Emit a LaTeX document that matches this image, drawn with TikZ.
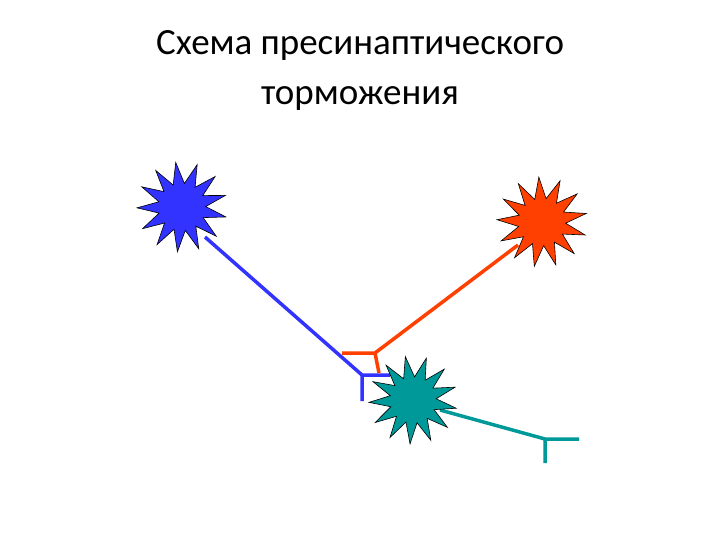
\documentclass[tikz,border=0pt]{standalone}
\usepackage{fontspec}
\setmainfont{Carlito}
\usetikzlibrary{shapes.geometric}
\begin{document}
\begin{tikzpicture}[x=1pt,y=-1pt,
  neuron/.style={star,star points=13,star point ratio=1.9,draw=black,line width=0.6pt,minimum size=#1,inner sep=0pt},
  axon/.style={line width=3.5pt,draw=#1}]
\useasboundingbox[fill=white] (0,0) rectangle (720,540);
\node[font=\fontsize{37}{50}\selectfont,align=center] (title) at (360,70) {Схема пресинаптического\\торможения};
\definecolor{nblue}{RGB}{51,51,255}
\definecolor{nred}{RGB}{255,64,0}
\definecolor{nteal}{RGB}{0,153,153}
\coordinate (bj) at (362,375); \coordinate (bh) at (390,375); \coordinate (bv) at (362,401);
\coordinate (rj) at (375,353); \coordinate (rh) at (342,353); \coordinate (rv) at (379,373);
\coordinate (tj) at (545,439); \coordinate (th) at (579,439); \coordinate (tv) at (545,463);
\coordinate (bs) at (205,237); \coordinate (rs) at (518,245); \coordinate (ts) at (440,410);
\draw[axon=nblue] (bs) -- (bj) (bh) -- (bj) -- (bv);
\draw[axon=nred] (rs) -- (rj) -- (rh) (rj) -- (rv);
\draw[axon=nteal] (ts) -- (tj) -- (th) (tj) -- (tv);
\node[neuron=90pt,fill=nblue,rotate=8] (b) at (182,207) {};
\node[neuron=90pt,fill=nred,rotate=4] (r) at (542,222) {};
\node[neuron=88pt,fill=nteal,rotate=10] (t) at (413,400) {};
\end{tikzpicture}
\end{document}
